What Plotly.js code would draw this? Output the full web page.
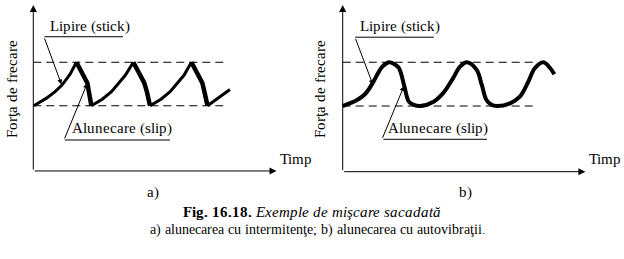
<!DOCTYPE html>
<html>
<head>
<meta charset="utf-8">
<script src="https://cdn.plot.ly/plotly-3.0.1.min.js"></script>
<style>
@font-face{font-family:'LSerif';src:local('Liberation Serif'),local('LiberationSerif'),local('Liberation Serif Regular'),local('LiberationSerif-Regular');font-weight:normal;font-style:normal;}
@font-face{font-family:'LSerif';src:local('Liberation Serif Bold'),local('LiberationSerif-Bold');font-weight:bold;font-style:normal;}
@font-face{font-family:'LSerif';src:local('Liberation Serif Italic'),local('LiberationSerif-Italic');font-weight:normal;font-style:italic;}
html,body{margin:0;padding:0;background:#fff;font-family:'Liberation Serif',serif;}
#chart{width:624px;height:259px;}
</style>
</head>
<body>
<div id="chart"></div>
<script>
// ---- Panel a) stick-slip (sawtooth) : time (arb. units) vs friction force (arb. units)
const stickA_t = [0.01,0.23,0.38,0.50,0.64,0.75, null, 1.01,1.20,1.36,1.48,1.60,1.74, null, 2.03,2.22,2.38,2.50,2.62,2.75, null, 3.03,3.22,3.42];
const stickA_F = [0.60,0.67,0.73,0.79,0.89,1.00, null, 0.60,0.66,0.73,0.80,0.88,1.00, null, 0.60,0.66,0.73,0.80,0.88,1.00, null, 0.60,0.67,0.75];
const slipA_t  = [0.75,0.79,0.84,0.89,0.94,0.97,0.99,1.01, null, 1.74,1.78,1.83,1.88,1.93,1.98,2.01,2.03, null, 2.75,2.79,2.84,2.89,2.94,2.98,3.01,3.03];
const slipA_F  = [1.00,0.96,0.91,0.86,0.81,0.72,0.65,0.60, null, 1.00,0.96,0.91,0.86,0.81,0.72,0.66,0.60, null, 1.00,0.96,0.91,0.86,0.81,0.72,0.65,0.60];

// ---- Panel b) self-excited vibration (smooth oscillation)
const timeB  = [0.00,0.25,0.39,0.51,0.63,0.70,0.81,0.91,0.98,1.07,1.15,1.24,1.34,1.58,1.75,1.92,2.04,2.16,2.33,2.42,2.50,2.58,2.68,2.91,3.08,3.23,3.34,3.49,3.61,3.68];
const forceB = [0.60,0.655,0.71,0.80,0.915,0.965,1.00,0.98,0.945,0.785,0.64,0.61,0.60,0.64,0.72,0.855,0.96,1.00,0.93,0.79,0.655,0.615,0.60,0.625,0.685,0.825,0.945,1.00,0.945,0.89];

// ---- friction levels (dashed) and axis extents
const levelsF = [0.60, 1.00];
const dashEndA = 3.37, dashEndB = 3.36;
const axisA = {tMax: 4.23, fMax: 1.527};
const axisB = {tMax: 4.22, fMax: 1.524};

// ---- texts
const yLabel = 'Forţa de frecare';
const xLabel = 'Timp';
const stickLabel = 'Lipire (stick)';
const slipLabel = 'Alunecare (slip)';
const panelLabels = ['a)', 'b)'];
const captionBold = 'Fig. 16.18.';
const captionItalic = 'Exemple de mişcare sacadată';
const captionLine2 = 'a) alunecarea cu intermitenţe; b) alunecarea cu autovibraţii.';

const FONT = 'LSerif, Liberation Serif, serif';
const black = '#000000';

function draw() {
  const traces = [];
  levelsF.forEach(f => {
    traces.push({x:[0, dashEndA], y:[f, f], xaxis:'x', yaxis:'y', mode:'lines',
      line:{color:black, width:1, dash:'8px,5px'}});
    traces.push({x:[0, dashEndB], y:[f, f], xaxis:'x2', yaxis:'y2', mode:'lines',
      line:{color:black, width:1, dash:'8px,5px'}});
  });
  traces.push({x:stickA_t, y:stickA_F, xaxis:'x', yaxis:'y', mode:'lines', line:{color:black, width:3}});
  traces.push({x:slipA_t, y:slipA_F, xaxis:'x', yaxis:'y', mode:'lines', line:{color:black, width:4.5}});
  traces.push({x:timeB, y:forceB, xaxis:'x2', yaxis:'y2', mode:'lines',
    line:{color:black, width:4, shape:'spline', smoothing:1}});

  function arrow(xr, yr, x, y, ax, ay, size, head) {
    return {xref:xr, yref:yr, axref:xr, ayref:yr, x:x, y:y, ax:ax, ay:ay, text:'',
      showarrow:true, arrowhead:(head === undefined ? 2 : head), arrowsize:size, arrowwidth:1,
      arrowcolor:black, standoff:0, startstandoff:0};
  }
  function label(xr, yr, x, y, text, size, angle) {
    return {xref:xr, yref:yr, x:x, y:y, text:text, showarrow:false, textangle:angle || 0,
      xanchor:'center', yanchor:'middle', font:{family:FONT, size:size, color:black}};
  }

  const ann = [];
  ann.push(arrow('x','y', axisA.tMax, 0, 0, 0, 1.4));
  ann.push(arrow('x','y', 0, axisA.fMax, 0, 0, 1.4));
  ann.push(arrow('x2','y2', axisB.tMax, 0, 0, 0, 1.4));
  ann.push(arrow('x2','y2', 0, axisB.fMax, 0, 0, 1.4));
  ann.push(arrow('x','y', 0.49, 0.796, 0.186, 1.233, 1));
  ann.push(arrow('x','y', 0.939, 0.807, 0.534, 0.285, 1));
  ann.push(arrow('x2','y2', 0.527, 0.793, 0.214, 1.227, 1));
  ann.push(arrow('x2','y2', 1.066, 0.783, 0.683, 0.296, 1));
  ann.push(arrow('x','y', 1.560, 1.235, 0.169, 1.235, 1, 0));
  ann.push(arrow('x','y', 2.377, 0.285, 0.522, 0.285, 1, 0));
  ann.push(arrow('x2','y2', 1.583, 1.229, 0.191, 1.229, 1, 0));
  ann.push(arrow('x2','y2', 2.510, 0.296, 0.683, 0.296, 1, 0));
  ann.push(label('x','y', 0.985, 1.337, stickLabel, 15));
  ann.push(label('x','y', 1.543, 0.393, slipLabel, 15));
  ann.push(label('x2','y2', 0.988, 1.335, stickLabel, 15));
  ann.push(label('x2','y2', 1.654, 0.396, slipLabel, 15));
  ann.push(label('x','y', 4.56, 0.108, xLabel, 15));
  ann.push(label('x2','y2', 4.567, 0.113, xLabel, 15));
  ann.push(label('x','y', -0.376, 0.753, yLabel, 15, -90));
  ann.push(label('x2','y2', -0.39, 0.757, yLabel, 15, -90));
  ann.push(label('x','y', 2.087, -0.19, panelLabels[0], 15));
  ann.push(label('x2','y2', 2.132, -0.183, panelLabels[1], 15));
  ann.push(label('paper','paper', 0.4995, 0.1826, '<b>'+captionBold+'</b> <i>'+captionItalic+'</i>', 15));
  ann.push(label('paper','paper', 0.510, 0.112, captionLine2, 14));

  const hidden = {visible:false};
  const layout = {
    width:624, height:259, margin:{l:0, r:0, t:0, b:0, pad:0},
    font:{family:FONT, color:black},
    paper_bgcolor:'#ffffff', showlegend:false,
    xaxis: Object.assign({domain:[0,0.5], range:[-0.579, 4.847]}, hidden),
    yaxis: Object.assign({domain:[0,1], range:[-0.810, 1.573]}, hidden),
    xaxis2: Object.assign({domain:[0.5,1], range:[-0.534, 4.892], anchor:'y2'}, hidden),
    yaxis2: Object.assign({domain:[0,1], range:[-0.798, 1.569], anchor:'x2'}, hidden),
    annotations: ann
  };
  Plotly.newPlot('chart', traces, layout, {staticPlot:true});
}

let drawn = false;
function go(){ if (!drawn) { drawn = true; draw(); } }
if (document.fonts && document.fonts.load) {
  Promise.all([
    document.fonts.load('15px LSerif'),
    document.fonts.load('bold 15px LSerif'),
    document.fonts.load('italic 15px LSerif')
  ]).then(go, go);
  setTimeout(go, 800);
} else { go(); }
</script>
</body>
</html>
